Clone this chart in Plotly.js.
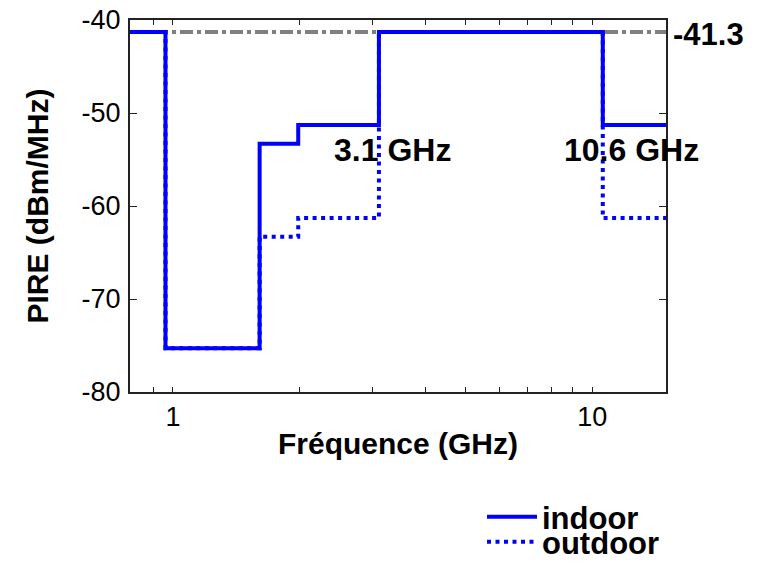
<!DOCTYPE html>
<html>
<head>
<meta charset="utf-8">
<script src="https://cdn.plot.ly/plotly-3.0.1.min.js"></script>
<style>
  html, body { margin: 0; padding: 0; background: #fff; }
  #chart { width: 758px; height: 565px; }
</style>
</head>
<body>
<div id="chart"></div>
<script>
// UWB emission mask: band edges (GHz) and EIRP level in each band (dBm/MHz)
const freqEdges   = [0.79, 0.96, 1.61, 1.99, 3.1, 10.6, 15];
const indoorEirp  = [-41.3, -75.3, -53.3, -51.3, -41.3, -51.3];
const outdoorEirp = [-41.3, -75.3, -63.3, -61.3, -41.3, -61.3];
const eirpLimit   = -41.3;

// Axis ticks
const freqTickVals   = [1, 10];
const freqTickText   = ['1', '10'];
const freqMinorTicks = [0.9, 2, 3, 4, 5, 6, 7, 8, 9];
const eirpTickVals   = [-80, -70, -60, -50, -40];
const eirpTickText   = ['-80', '-70', '-60', '-50', '-40'];

// Labelled band edges
const labelledEdges = [freqEdges[4], freqEdges[5]];

const FONT = 'Liberation Sans, Arial, Helvetica, sans-serif';
const BLUE = '#0000ff';

// With 'hv' steps the last level needs a closing point at the last edge
const stepLevels = levels => levels.concat([levels[levels.length - 1]]);

const traces = [
  {
    name: 'indoor',
    x: freqEdges,
    y: stepLevels(indoorEirp),
    type: 'scatter',
    mode: 'lines',
    line: { shape: 'hv', color: BLUE, width: 4 },
    legend: 'legend',
    hoverinfo: 'x+y'
  },
  {
    name: 'outdoor',
    x: freqEdges,
    y: stepLevels(outdoorEirp),
    type: 'scatter',
    mode: 'lines',
    line: { shape: 'hv', color: BLUE, width: 4, dash: '4px,4.5px' },
    legend: 'legend2',
    hoverinfo: 'x+y'
  }
];

const axisCommon = {
  automargin: false,
  showline: true,
  linecolor: '#222',
  linewidth: 2,
  mirror: 'ticks',
  ticks: 'inside',
  tickcolor: '#222',
  tickwidth: 1,
  showgrid: false,
  zeroline: false,
  tickfont: { family: FONT, size: 27, color: '#000' }
};

const boldFont = size => ({ family: FONT, size: size, color: '#000', weight: 'bold' });

const annotations = [
  {
    xref: 'paper', x: 1, xanchor: 'left', xshift: 5,
    yref: 'y', y: eirpLimit, yanchor: 'middle', yshift: -2,
    text: String(eirpLimit),
    showarrow: false,
    font: boldFont(31)
  }
].concat(labelledEdges.map((f, i) => ({
  xref: 'x', x: Math.log10(f), xanchor: 'center', xshift: i === 0 ? 14 : 29,
  yref: 'y', y: -54.0, yanchor: 'middle',
  text: f + ' GHz',
  showarrow: false,
  font: boldFont(32)
})));

const legendCommon = {
  xref: 'container', xanchor: 'left', x: 482 / 758,
  yref: 'container', yanchor: 'middle',
  bgcolor: 'rgba(0,0,0,0)',
  borderwidth: 0,
  itemwidth: 50,
  font: boldFont(31)
};

const layout = {
  width: 758,
  height: 565,
  margin: { l: 130, r: 92, t: 20, b: 173, autoexpand: false },
  paper_bgcolor: '#fff',
  plot_bgcolor: '#fff',
  font: { family: FONT, color: '#000' },
  xaxis: Object.assign({}, axisCommon, {
    type: 'log',
    range: [Math.log10(freqEdges[0]), Math.log10(freqEdges[freqEdges.length - 1])],
    tickmode: 'array',
    tickvals: freqTickVals,
    ticktext: freqTickText,
    ticklen: 5,
    ticklabelstandoff: 0,
    minor: { tickmode: 'array', tickvals: freqMinorTicks, ticks: 'inside', ticklen: 5, tickcolor: '#222', tickwidth: 1 },
    title: { text: 'Fréquence (GHz)', font: boldFont(30), standoff: 2 }
  }),
  yaxis: Object.assign({}, axisCommon, {
    range: [-80, -40],
    tickmode: 'array',
    tickvals: eirpTickVals,
    ticktext: eirpTickText,
    ticklen: 7,
    ticklabelstandoff: 2,
    title: { text: 'PIRE (dBm/MHz)', font: boldFont(30), standoff: 24 }
  }),
  shapes: [
    {
      type: 'line', layer: 'below',
      xref: 'paper', x0: 0, x1: 1,
      yref: 'y', y0: eirpLimit, y1: eirpLimit,
      line: { color: '#808080', width: 4, dash: '13px,4px,4px,4px' }
    }
  ],
  annotations: annotations,
  legend: Object.assign({}, legendCommon, { y: 1 - 517 / 565 }),
  legend2: Object.assign({}, legendCommon, { y: 1 - 542 / 565 }),
  showlegend: true
};

Plotly.newPlot('chart', traces, layout, { displayModeBar: false, staticPlot: true });
</script>
</body>
</html>
